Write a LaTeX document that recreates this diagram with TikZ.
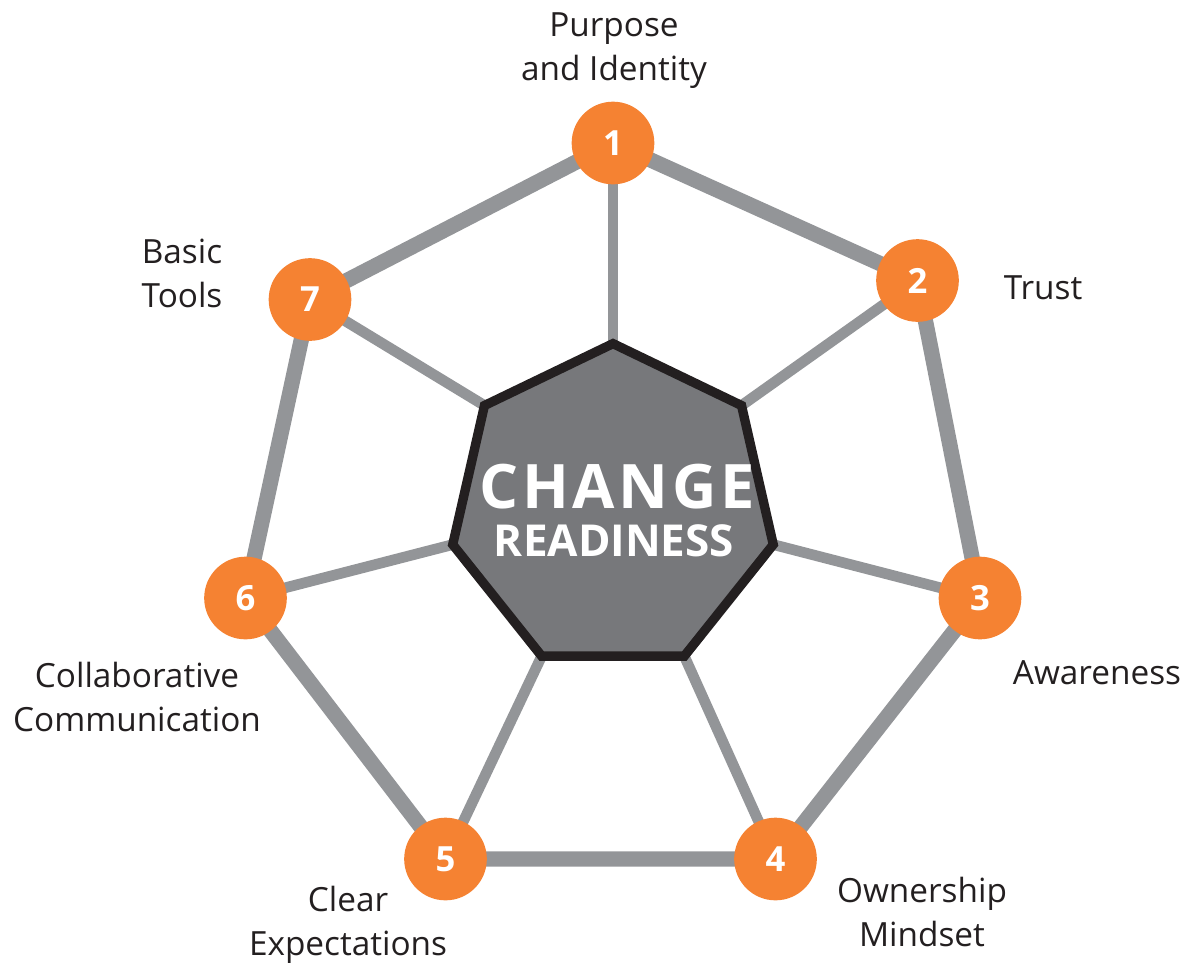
\documentclass[tikz,border=0pt]{standalone}
\usepackage{fontspec}
\setmainfont{Open Sans}
\usetikzlibrary{backgrounds,calc}
\definecolor{readyorange}{HTML}{F58232}
\definecolor{linegray}{HTML}{939598}
\definecolor{heptfill}{HTML}{77787B}
\definecolor{darkink}{HTML}{231F20}
\tikzset{
  stepcircle/.style={circle,fill=readyorange,inner sep=0pt,minimum size=62pt,
    text=white,font=\fontsize{26}{26}\selectfont\bfseries},
  steplabel/.style={align=center,text=darkink,font=\fontsize{25}{33}\selectfont},
  spoke/.style={linegray,line width=8pt},
  rim/.style={linegray,line width=11.5pt}
}
\begin{document}
\begin{tikzpicture}[x=0.75pt,y=-0.75pt]
  \useasboundingbox (0,0) rectangle (1190,965);

  % heptagon corners
  \foreach \i in {1,...,7}
    \coordinate (h\i) at ($(613,508)+({-90+(\i-1)*360/7}:164.4)$);

  % the seven steps
  \node[stepcircle] (c1) at (613,143) {1};
  \node[stepcircle] (c2) at (917.5,280.5) {2};
  \node[stepcircle] (c3) at (980,598) {3};
  \node[stepcircle] (c4) at (775.5,859) {4};
  \node[stepcircle] (c5) at (445.5,859) {5};
  \node[stepcircle] (c6) at (245.5,598) {6};
  \node[stepcircle] (c7) at (310,299.5) {7};

  \begin{scope}[on background layer]
    \foreach \i in {1,...,7}
      \draw[spoke] (h\i) -- (c\i.center);
    \draw[rim] (c1.center) -- (c2.center) -- (c3.center) -- (c4.center)
      -- (c5.center) -- (c6.center) -- (c7.center) -- cycle;
  \end{scope}

  \draw[fill=heptfill,draw=darkink,line width=7pt]
    (h1) -- (h2) -- (h3) -- (h4) -- (h5) -- (h6) -- (h7) -- cycle;

  \node[text=white,font=\fontsize{46}{46}\selectfont\bfseries\addfontfeature{LetterSpace=6}]
    (change) at (617,487) {CHANGE};
  \node[text=white,font=\fontsize{33}{33}\selectfont\bfseries]
    (ready) at (614,541) {READINESS};

  % labels
  \node[steplabel] (l1) at (614,51) {Purpose\\and Identity};
  \node[steplabel] (l2) at (1043,288) {Trust};
  \node[steplabel] (l3) at (1097,673) {Awareness};
  \node[steplabel] (l4) at (922,912) {Ownership\\Mindset};
  \node[steplabel] (l5) at (348,925) {Clear\\Expectations};
  \node[steplabel] (l6) at (137,697) {Collaborative\\Communication};
  \node[steplabel] (l7) at (182,273) {Basic\\Tools};
\end{tikzpicture}
\end{document}
